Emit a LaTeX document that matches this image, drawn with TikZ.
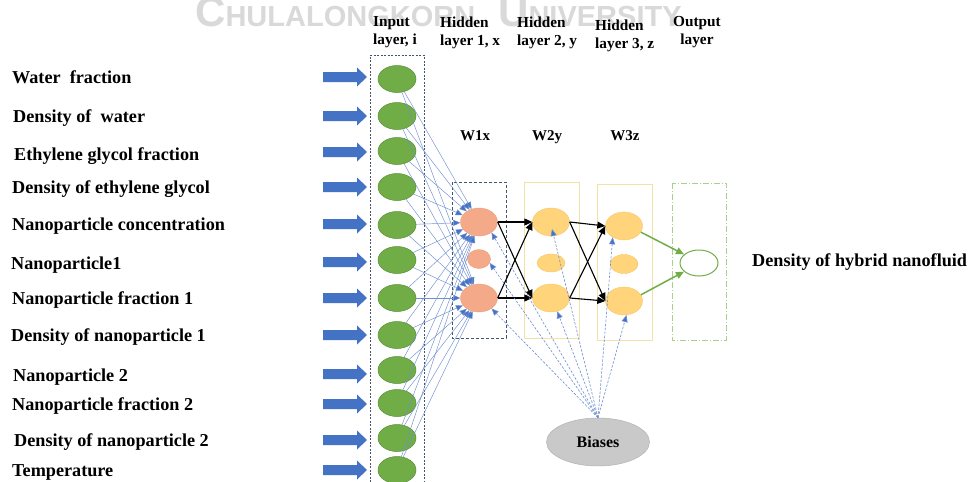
\documentclass[tikz,border=0pt]{standalone}
\usepackage{fontspec}
\setmainfont{Liberation Serif}
\newfontfamily\wmfont{Liberation Sans}
\usetikzlibrary{shapes.geometric,arrows.meta,calc}
\definecolor{ingreen}{HTML}{70AD47}
\definecolor{ingreenD}{HTML}{5A8F38}
\definecolor{arrblue}{HTML}{4472C4}
\definecolor{linkblue}{HTML}{6F8FD0}
\definecolor{boxblue}{HTML}{44546A}
\definecolor{salmon}{HTML}{F4AA88}
\definecolor{salmonD}{HTML}{E8A080}
\definecolor{gold}{HTML}{FFD47A}
\definecolor{goldD}{HTML}{F5C86A}
\definecolor{goldbox}{HTML}{F0E2A8}
\definecolor{outgreen}{HTML}{70AD47}
\definecolor{outbox}{HTML}{A9D18E}
\definecolor{biasgray}{HTML}{C9C9C9}
\begin{document}
\begin{tikzpicture}[x=1pt,y=-1pt,
  inp/.style={ellipse, fill=ingreen, draw=ingreenD, line width=0.5pt, minimum width=38pt, minimum height=27pt, inner sep=0pt},
  hone/.style={ellipse, fill=salmon, draw=salmonD, line width=0.4pt, inner sep=0pt},
  htwo/.style={ellipse, fill=gold, draw=goldD, line width=0.4pt, inner sep=0pt},
  bigsz/.style={minimum width=37pt, minimum height=28pt},
  lbl/.style={anchor=base west, inner sep=0pt, font=\fontsize{18.2}{20}\selectfont\bfseries},
  hdr/.style={anchor=north west, inner sep=0pt, align=left, font=\fontsize{15.3}{18}\selectfont\bfseries},
  wlbl/.style={anchor=base, inner sep=0pt, font=\fontsize{15}{18}\selectfont\bfseries},
  link/.style={draw=linkblue, line width=0.45pt, -{Triangle[length=7pt,width=6pt,fill=arrblue]}},
  blink/.style={draw=linkblue, line width=0.6pt, dash pattern=on 2.5pt off 1.5pt, -{Triangle[length=7pt,width=6pt,fill=arrblue]}},
  blk/.style={draw=black, line width=1.1pt, -{Triangle[length=8pt,width=7pt]}},
  grn/.style={draw=outgreen, line width=1.5pt, -{Triangle[length=8pt,width=7pt]}},
  barrowpic/.pic={\fill[arrblue] (-22,-5) -- (12,-5) -- (12,-9.5) -- (22,0) -- (12,9.5) -- (12,5) -- (-22,5) -- cycle;}
]
\useasboundingbox (0,0) rectangle (970,482);
\fill[white] (0,0) rectangle (970,482);
% watermark
\begin{scope}
\clip (0,0) rectangle (970,482);
\node[anchor=base west, inner sep=0pt, text=black!15] at (195,26)
  {\wmfont\bfseries\fontsize{42}{42}\selectfont C\fontsize{29}{29}\selectfont HULALONGKORN};
\node[anchor=base west, inner sep=0pt, text=black!15] at (498,26)
  {\wmfont\bfseries\fontsize{42}{42}\selectfont U\fontsize{29}{29}\selectfont NIVERSITY};
\end{scope}
% headers
\node[hdr] (hin) at (373,16.5) {Input\\layer, i};
\node[hdr] (hx) at (440,16.5) {Hidden\\layer 1, x};
\node[hdr] (hy) at (517,16.5) {Hidden\\layer 2, y};
\node[hdr] (hz) at (595,20) {Hidden\\layer 3, z};
\node[hdr, anchor=north, align=center] (hout) at (697,16.5) {Output\\layer};
\node[wlbl] (w1) at (475,140) {W1x};
\node[wlbl] (w2) at (547,140) {W2y};
\node[wlbl] (w3) at (625,140) {W3z};
% boxes
\draw[boxblue, line width=0.6pt, dash pattern=on 2pt off 1.5pt] (370,482) -- (370,55) -- (424,55) -- (424,482);
\draw[boxblue, line width=0.8pt, dash pattern=on 3pt off 2pt] (452,182) rectangle (506,338);
\draw[goldbox, line width=0.9pt] (524,182) rectangle (579,338);
\draw[goldbox, line width=0.9pt] (597,184) rectangle (652,340);
\draw[outbox, line width=0.9pt, dash pattern=on 6pt off 2pt on 1pt off 2pt] (672,183) rectangle (726,340);
% inputs
\foreach \y [count=\k] in {79,116,151,187,225,260,298,335,370,403,438,470}
  {\node[inp] (i\k) at (397,\y) {};}
\foreach \y in {77,116,152,187,224,262,298,335,374,404,440,470}
  {\pic at (345,\y) {barrowpic};}
\foreach \x/\y/\t [count=\k] in {12/77/Water\ \ fraction, 13/116/Density of\ \ water, 14/154/Ethylene glycol fraction,
  12/187/Density of ethylene glycol, 12/224/Nanoparticle concentration, 11/263/Nanoparticle1,
  12/298/Nanoparticle fraction 1, 11/335/Density of nanoparticle 1, 13/375/Nanoparticle 2,
  12/404/Nanoparticle fraction 2, 14/440/Density of nanoparticle 2, 12/470/Temperature}
  {\node[lbl] (l\k) at (\x,\y+6) {\t};}
% hidden nodes
\node[hone, bigsz] (h1a) at (479,222) {};
\node[hone, minimum width=23pt, minimum height=19pt] (h1m) at (479,259) {};
\node[hone, bigsz] (h1b) at (479,298) {};
\node[htwo, bigsz] (h2a) at (551,222) {};
\node[htwo, minimum width=28pt, minimum height=18pt] (h2m) at (551,263) {};
\node[htwo, bigsz] (h2b) at (551,298) {};
\node[htwo, bigsz] (h3a) at (624,226) {};
\node[htwo, minimum width=28pt, minimum height=19pt] (h3m) at (624,264) {};
\node[htwo, bigsz] (h3b) at (624,301) {};
\node[ellipse, draw=outgreen, line width=1pt, fill=white, minimum width=38pt, minimum height=26pt, inner sep=0pt] (out) at (699,263) {};
% input links
\foreach \k in {1,...,12}
  {\draw[link] (i\k) -- (h1a); \draw[link] (i\k) -- (h1b);}
% hidden links
\draw[blk] (h1a.east) -- (h2a.west);
\draw[blk] (h1a.east) -- (h2b.west);
\draw[blk] (h1b.east) -- (h2a.west);
\draw[blk] (h1b.east) -- (h2b.west);
\draw[blk] (h2a.east) -- (h3a.west);
\draw[blk] (h2a.east) -- (h3b.west);
\draw[blk] (h2b.east) -- (h3a.west);
\draw[blk] (h2b.east) -- (h3b.west);
\draw[grn] (h3a.-20) -- (out.150);
\draw[grn] (h3b.20) -- (out.210);
% biases
\node[ellipse, fill=biasgray, draw=gray!60, line width=0.5pt, minimum width=103pt, minimum height=48pt, inner sep=0pt,
  font=\fontsize{16}{18}\selectfont\bfseries] (b) at (598,442) {Biases};
\draw[blink] (b.north) -- (h1a.-40);
\draw[blink] (b.north) -- (h1m.-20);
\draw[blink] (b.north) -- (h1b.-40);
\draw[blink] (b.north) -- ($(h2a)+(1,7)$);
\draw[blink] (b.north) -- (h2b.-65);
\draw[blink] (b.north) -- (h3a.-135);
\draw[blink] (b.north) -- (h3b.-80);
% output label
\node[lbl] (olbl) at (752,266) {Density of hybrid nanofluid};
\end{tikzpicture}
\end{document}
